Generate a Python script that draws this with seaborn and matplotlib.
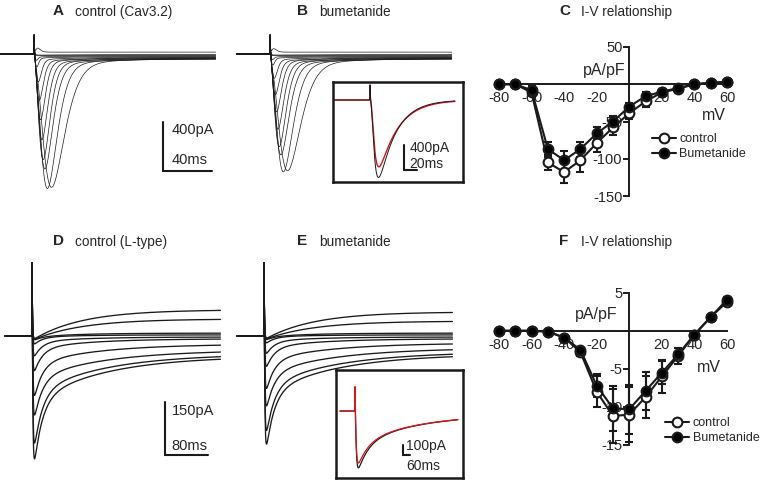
import numpy as np
import pandas as pd
import matplotlib
matplotlib.use("Agg")
import matplotlib.pyplot as plt
import seaborn as sns
from matplotlib.lines import Line2D

# ------------------------------
# I-V data (pA/pF), read off panels C and F
# ------------------------------
mv = [-80, -70, -60, -50, -40, -30, -20, -10, 0, 10, 20, 30, 40, 50, 60]

c_ctrl = [0, 0, -11, -105, -118, -102, -79, -58, -39, -23, -11, -6, 0, 2, 3]
c_ctrl_err = [0, 0, 4, 10, 15, 16, 12, 10, 8, 8, 4, 3, 1, 1, 1]
c_bum = [0, 0, -8, -87, -102, -87, -66, -50, -30, -16, -10, -5, 0, 2, 3]
c_bum_err = [0, 0, 6, 10, 13, 10, 8, 7, 5, 5, 3, 2, 1, 1, 1]

f_ctrl = [0, 0, 0, -0.1, -0.9, -2.8, -8.0, -11.2, -11.0, -8.7, -6.0, -3.3, -0.5, 1.8, 3.8]
f_ctrl_err = [0, 0, 0, 0, 0.2, 0.5, 2.0, 3.6, 3.6, 2.7, 2.2, 1.0, 0.3, 0.3, 0.4]
f_bum = [0, 0, 0, -0.1, -0.9, -2.5, -7.2, -10.2, -10.3, -7.9, -5.5, -3.1, -0.5, 1.8, 4.1]
f_bum_err = [0, 0, 0, 0, 0.2, 0.4, 1.5, 3.0, 3.2, 2.5, 1.5, 0.8, 0.3, 0.3, 0.4]

# ------------------------------
# Current traces: per-sweep peak (pA) and timing (ms) read off A/B/D/E
# ------------------------------
# T-type family (A = control, B = bumetanide)
a_amp = [-35, 0, 20, 60, 115, 235, 385, 545, 710, 875, 955, 1120, 1120]
b_amp = [-30, 0, 18, 55, 100, 205, 340, 480, 625, 770, 840, 985, 985]
a_tp = [3.0, 2.0, 1.5, 1.8, 2.2, 3.5, 4.4, 5.4, 6.5, 7.6, 9.0, 11.0, 14.5]
a_slow = [0, 5, 5, 10, 15, 25, 35, 45, 55, 65, 75, 85, 95]
a_end = [-15, 5, 10, 15, 20, 25, 30, 30, 35, 35, 40, 40, 40]
a_cap = 210

# B inset: black = control sweep, red = bumetanide sweep
bi_amp = [1240, 1070]
bi_tm = [4.5, 4.5]
bi_th = [26, 29]
bi_cap = 240

# L-type family (D = control, E = bumetanide)
d_peak = [-351, -306, -226, -170, -99, -57, -23, -11, -8, -6]
d_end = [-57, -51, -40, -23, -8, -3, 3, 8, 48, 74]
e_peak = [-309, -270, -200, -150, -87, -50, -20, -10, -7, -5]
e_end = [-51, -45, -34, -20, -8, -3, 3, 8, 42, 68]
d_tau = [130, 130, 130, 120, 100, 90, 80, 80, 90, 90]
d_wfast = [0.65, 0.65, 0.65, 0.7, 0.75, 0.8, 0.8, 0.5, 0.0, 0.0]
d_cap = 207

# E inset
ei_peak = [-570, -520]
ei_end = [-30, -30]
ei_wfast = [0.54, 0.5]
ei_cap = 350


def t_type(t, amp, tp, slow, end, cap):
    tt = np.clip(t, 0, None)
    x = tt / tp
    g = x ** 3 * np.exp(3 * (1 - x))
    rise = 1 - np.exp(-tt / 1.5)
    fast = amp - np.sign(amp) * min(abs(amp), slow + max(end, 0))
    spike = np.where(t >= 0, cap * np.exp(-tt / 0.35), 0)
    return -fast * g - slow * rise * np.exp(-tt / 35) - end * rise + spike


def t_type_hh(t, amp, tm, th, cap):
    tt = np.clip(t, 0, None)
    m = (1 - np.exp(-tt / tm)) ** 3
    g = m * np.exp(-tt / th)
    g = g / g.max()
    spike = np.where(t >= 0, cap * np.exp(-tt / 0.35), 0)
    return -amp * g + spike


def l_type(t, peak, end, tau_s, w, cap, tf=15, tr=1.2, tc=0.8):
    tt = np.clip(t, 0, None)
    rise = (1 - np.exp(-tt / tr)) ** 2
    g = rise * (w * np.exp(-tt / tf) + (1 - w) * np.exp(-tt / tau_s))
    g = g / g.max()
    spike = np.where(t >= 0, cap * np.exp(-tt / tc), 0)
    return end * rise + (peak - end) * g + spike


def draw_sweeps(ax, t, sweeps, color="k", lw=0.5):
    df = pd.DataFrame({
        "t": np.tile(t, len(sweeps)),
        "I": np.concatenate(sweeps),
        "sweep": np.repeat(np.arange(len(sweeps)), len(t)),
    })
    sns.lineplot(data=df, x="t", y="I", units="sweep", estimator=None,
                 color=color, lw=lw, ax=ax, legend=False, sort=False)


W, H = 760, 480
sns.set_theme(style="white")
plt.rcParams["font.family"] = ["Liberation Sans", "DejaVu Sans"]
fig = plt.figure(figsize=(W / 100, H / 100), dpi=100)


def px_axes(x0, y0, x1, y1):
    return fig.add_axes([x0 / W, 1 - y1 / H, (x1 - x0) / W, (y1 - y0) / H])


def px_text(x, y, s, size=10.5, **kw):
    fig.text(x / W, 1 - y / H, s, fontsize=size, va="center", **kw)


def trace_axes(ax, xlim, ylim):
    ax.set_xlim(*xlim)
    ax.set_ylim(*ylim)
    ax.axis("off")


def scale_bar(ax, x, y, dy, dx, ylab, xlab, lx, ly1, ly2, size=10.5, lw=1.5):
    ax.plot([x, x, x + dx], [y + dy, y, y], color="k", lw=lw,
            solid_joinstyle="miter", clip_on=False)
    ax.text(lx, ly1, ylab, fontsize=size, va="center", ha="left")
    ax.text(lx, ly2, xlab, fontsize=size, va="center", ha="left")


def inset_frame(ax):
    ax.set_facecolor("white")
    ax.set_xticks([])
    ax.set_yticks([])
    ax.set_xlabel("")
    ax.set_ylabel("")
    for sp in ax.spines.values():
        sp.set_visible(True)
        sp.set_color("k")
        sp.set_linewidth(1.8)


# ------------------------------
# Panels A and B: T-type traces
# ------------------------------
t_ab = np.arange(-27.5, 148.5, 0.2)

ax_a = px_axes(0, 20, 225, 205)
sweeps = [t_type(t_ab, a_amp[i], a_tp[i], a_slow[i], a_end[i], a_cap) for i in range(len(a_amp))]
draw_sweeps(ax_a, t_ab, sweeps, lw=0.5)
trace_axes(ax_a, (-27.7, 155.9), (-1232, 277))
scale_bar(ax_a, 105.3, -955, 400, 40, "400pA", "40ms", 112.6, -620, -865)

ax_b = px_axes(225, 20, 470, 205)
sweeps = [t_type(t_ab, b_amp[i], a_tp[i], a_slow[i], a_end[i], a_cap) for i in range(len(b_amp))]
draw_sweeps(ax_b, t_ab, sweeps, lw=0.5)
trace_axes(ax_b, (-36.7, 163.2), (-1232, 277))

# inset: red sweep underneath, black on top (red shows at the trough)
ax_bi = px_axes(333, 82, 463, 182)
t_bi = np.arange(-55, 131, 0.25)
draw_sweeps(ax_bi, t_bi, [t_type_hh(t_bi, bi_amp[1], bi_tm[1], bi_th[1], bi_cap)], "#d8141b", 1.0)
draw_sweeps(ax_bi, t_bi, [t_type_hh(t_bi, bi_amp[0], bi_tm[0], bi_th[0], bi_cap)], "k", 0.7)
inset_frame(ax_bi)
ax_bi.set_xlim(-57, 143.2)
ax_bi.set_ylim(-1312, 288)
scale_bar(ax_bi, 52, -1115, 400, 20, "400pA", "20ms", 61, -770, -1025, size=10)

# ------------------------------
# Panels D and E: L-type traces
# ------------------------------
t_de = np.arange(-50, 351, 0.5)

ax_d = px_axes(0, 255, 225, 480)
sweeps = [l_type(t_de, d_peak[i], d_end[i], d_tau[i], d_wfast[i], d_cap) for i in range(len(d_peak))]
draw_sweeps(ax_d, t_de, sweeps, lw=0.95)
trace_axes(ax_d, (-59.5, 359), (-407.5, 229))
scale_bar(ax_d, 247, -337, 150, 80, "150pA", "80ms", 260, -212, -311)

ax_e = px_axes(230, 255, 475, 480)
sweeps = [l_type(t_de, e_peak[i], e_end[i], d_tau[i], d_wfast[i], d_cap) for i in range(len(e_peak))]
draw_sweeps(ax_e, t_de, sweeps, lw=0.95)
trace_axes(ax_e, (-63.2, 392.5), (-407.5, 229))

ax_ei = px_axes(336, 370, 463, 478)
t_ei = np.arange(-129, 886, 2.0)
draw_sweeps(ax_ei, t_ei, [l_type(t_ei, ei_peak[0], ei_end[0], 516, ei_wfast[0], ei_cap, tf=86, tr=8, tc=3)], "k", 0.9)
draw_sweeps(ax_ei, t_ei, [l_type(t_ei, ei_peak[1], ei_end[1], 516, ei_wfast[1], ei_cap, tf=86, tr=8, tc=3)], "#d8141b", 0.9)
inset_frame(ax_ei)
ax_ei.set_xlim(-163, 929)
ax_ei.set_ylim(-670, 410)
scale_bar(ax_ei, 410, -443, 100, 60, "100pA", "60ms", 440, -350, -545, size=10)


# ------------------------------
# Panels C and F: I-V curves
# ------------------------------
def iv_panel(box, ctrl, ctrl_err, bum, bum_err, ylim, yticks, ylabels, leg_xy, pa_xy, mv_xy):
    ax = px_axes(*box)
    for y, err, face in [(ctrl, ctrl_err, "white"), (bum, bum_err, "black")]:
        ax.errorbar(mv, y, yerr=err, fmt="none", ecolor="k", elinewidth=1.5,
                    capsize=3.2, capthick=1.5, clip_on=False, zorder=3)
        sns.lineplot(x=mv, y=y, ax=ax, color="k", lw=1.5, marker="o", markersize=7,
                     markerfacecolor=face, markeredgecolor="k", markeredgewidth=1.5,
                     clip_on=False, zorder=4)
    ax.set_xlim(-80, 60)
    ax.set_ylim(*ylim)
    ax.set_xlabel("")
    ax.set_ylabel("")
    for side in ["top", "right"]:
        ax.spines[side].set_visible(False)
    ax.spines["left"].set_position(("data", 0))
    ax.spines["bottom"].set_position(("data", 0))
    for side in ["left", "bottom"]:
        ax.spines[side].set_color("k")
        ax.spines[side].set_linewidth(1.4)
        ax.spines[side].set_zorder(2)
    ax.set_xticks([-80, -60, -40, -20, 0, 20, 40, 60])
    ax.set_xticklabels(["-80", "-60", "-40", "-20", "", "20", "40", "60"])
    ax.set_yticks(yticks)
    ax.set_yticklabels(ylabels)
    ax.tick_params(axis="x", length=0, pad=5, labelsize=10.5)
    ax.tick_params(axis="y", length=4, width=1.4, direction="out", pad=1,
                   labelsize=10.5, left=True, color="k")
    ax.set_facecolor("none")
    ax.grid(False)

    handles = [
        Line2D([], [], color="k", lw=1.5, marker="o", markersize=7,
               markerfacecolor="white", markeredgecolor="k", markeredgewidth=1.5),
        Line2D([], [], color="k", lw=1.5, marker="o", markersize=7,
               markerfacecolor="black", markeredgecolor="k", markeredgewidth=1.5),
    ]
    ax.legend(handles, ["control", "Bumetanide"], loc="upper left",
              bbox_to_anchor=(leg_xy[0] / W, 1 - leg_xy[1] / H), bbox_transform=fig.transFigure,
              frameon=False, fontsize=9, handlelength=1.9, handletextpad=0.3,
              labelspacing=0.25, borderpad=0, borderaxespad=0, numpoints=1)
    px_text(pa_xy[0], pa_xy[1], "pA/pF", size=11.5, ha="right")
    px_text(mv_xy[0], mv_xy[1], "mV", size=11.5, ha="left")
    return ax


iv_panel((499, 47, 727, 196), c_ctrl, c_ctrl_err, c_bum, c_bum_err, (-150, 50),
         [50, 0, -50, -100, -150], ["50", "", "-50", "-100", "-150"],
         (652, 133), (626, 70), (702, 115))
iv_panel((499, 292.7, 727, 445), f_ctrl, f_ctrl_err, f_bum, f_bum_err, (-15, 5),
         [5, 0, -5, -10, -15], ["5", "", "-5", "-10", "-15"],
         (665, 417), (618, 315), (697, 367))

# ------------------------------
# Panel titles
# ------------------------------
titles = [
    (53, 11, "A", "control (Cav3.2)"),
    (297, 11, "B", "bumetanide"),
    (559, 11, "C", "I-V relationship"),
    (53, 241, "D", "control (L-type)"),
    (297, 241, "E", "bumetanide"),
    (559, 241, "F", "I-V relationship"),
]
for x, y, letter, text in titles:
    px_text(x, y, letter, size=11, weight="bold")
    px_text(x + 22, y + 1, text, size=9.8)

fig.savefig("out.png", dpi=100)
